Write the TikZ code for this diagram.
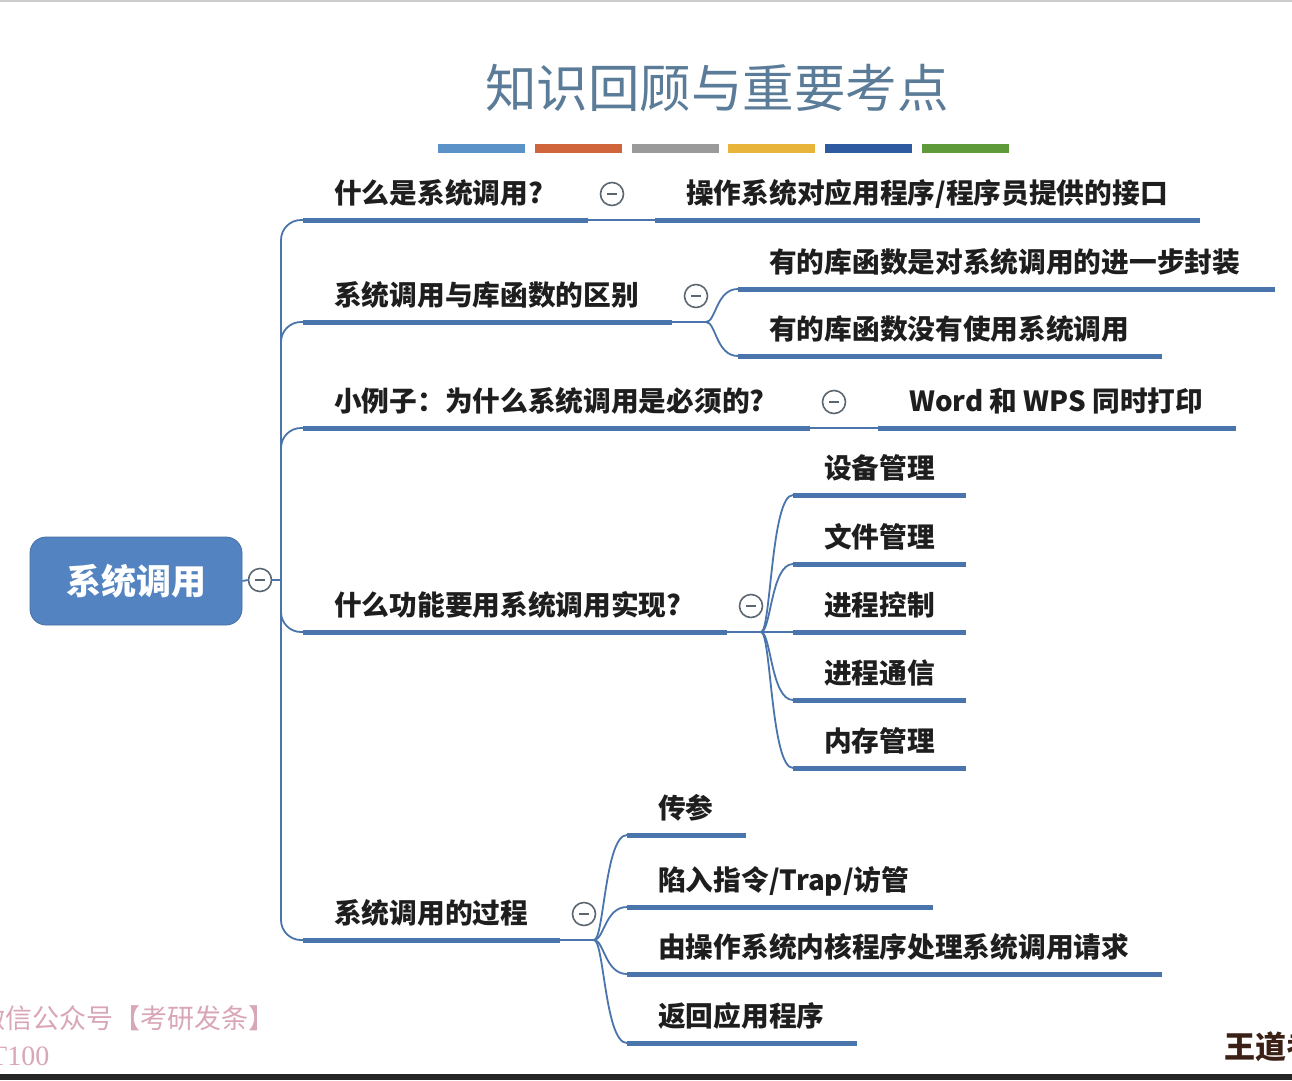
\documentclass[tikz,border=0pt]{standalone}
\usepackage{fontspec}
\newfontfamily\cjk{Noto Sans CJK SC}
\newfontfamily\latinserif{Liberation Serif}
\usetikzlibrary{positioning,calc}

\definecolor{linkblue}{HTML}{4A74AC}
\definecolor{rootblue}{HTML}{5383C0}
\definecolor{textdark}{HTML}{1E1E1E}
\definecolor{foldgray}{HTML}{5C6670}
\definecolor{titleblue}{HTML}{5B7C98}
\definecolor{markpink}{HTML}{D9A6B8}
\definecolor{wangdao}{HTML}{3B2015}
\definecolor{barA}{HTML}{5B93C8}
\definecolor{barB}{HTML}{D0643A}
\definecolor{barC}{HTML}{9A9A9A}
\definecolor{barD}{HTML}{E8B53A}
\definecolor{barE}{HTML}{2D5AA0}
\definecolor{barF}{HTML}{5E9A3A}

\tikzset{
  lbl/.style={anchor=base west, inner sep=0pt, text=textdark,
    font=\cjk\bfseries\fontsize{27.7}{30}\selectfont},
  uline/.style={draw=linkblue, line width=5pt},
  link/.style={draw=linkblue, line width=1.8pt},
  fold/.style={circle, draw=foldgray, fill=white, line width=1.6pt,
    minimum size=23pt, inner sep=0pt,
    path picture={\draw[foldgray, line width=1.6pt]
      ([xshift=-5pt]path picture bounding box.center) --
      ([xshift=5pt]path picture bounding box.center);}},
  rootbox/.style={rectangle, rounded corners=16pt, fill=rootblue, draw=rootblue!85!black,
    line width=0.8pt, minimum width=212pt, minimum height=88pt, text=white,
    font=\cjk\bfseries\fontsize{35}{38}\selectfont},
}

% name, left x, right x, underline y, text
\newcommand{\topicline}[5]{%
  \coordinate (#1-l) at (#2,#4);
  \coordinate (#1-r) at (#3,#4);
  \node[lbl] (#1) at ($(#1-l)+(31,-17)$) {#5};
  \draw[uline] (#1-l) -- (#1-r);
}
% from junction to a child line
\newcommand{\sublink}[2]{%
  \draw[link] (#1) .. controls +(10,0) and +(-22,0) .. (#2-l);
}

\begin{document}
\begin{tikzpicture}[x=1pt, y=-1pt]
\clip (0,0) rectangle (1292,1080);
\fill[white] (0,0) rectangle (1292,1080);
\fill[black!20] (0,0) rectangle (1292,2);
\fill[black!85] (0,1074) rectangle (1292,1080);

% title
\node[text=titleblue, font=\cjk\fontsize{51.5}{56}\selectfont] (title) at (717,88) {知识回顾与重要考点};
\foreach \c [count=\i from 0] in {barA,barB,barC,barD,barE,barF}{
  \fill[\c] (438+\i*96.8,144) rectangle ++(87,9);
}

% root
\node[rootbox] (root) at (136,581) {系统调用};
\node[fold] (rootfold) at (260,580) {};
\draw[link] (root.east) -- (rootfold.west);
\coordinate (trunk) at (281,580);
\draw[link] (rootfold.east) -- (trunk);

% first branch
\topicline{b1}{303}{588}{220}{什么是系统调用?}
\node[fold] (f1) at ($(b1-r)+(24,-26)$) {};
\topicline{c11}{655}{1200}{220}{操作系统对应用程序/程序员提供的接口}
\draw[link] (b1-r) -- (c11-l);

% second branch
\topicline{b2}{303}{672}{322}{系统调用与库函数的区别}
\node[fold] (f2) at ($(b2-r)+(24,-26)$) {};
\coordinate (j2) at ($(b2-r)+(34,0)$);
\draw[link] (b2-r) -- (j2);
\topicline{c21}{738}{1275}{289}{有的库函数是对系统调用的进一步封装}
\topicline{c22}{738}{1162}{356}{有的库函数没有使用系统调用}
\sublink{j2}{c21}
\sublink{j2}{c22}

% third branch
\topicline{b3}{303}{810}{428}{小例子：为什么系统调用是必须的?}
\node[fold] (f3) at ($(b3-r)+(24,-26)$) {};
\topicline{c31}{878}{1236}{428}{Word 和 WPS 同时打印}
\draw[link] (b3-r) -- (c31-l);

% fourth branch
\topicline{b4}{303}{727}{632}{什么功能要用系统调用实现?}
\node[fold] (f4) at ($(b4-r)+(24,-26)$) {};
\coordinate (j4) at ($(b4-r)+(34,0)$);
\draw[link] (b4-r) -- (j4);
\foreach \t/\y [count=\i] in {设备管理/495,文件管理/564,进程控制/632,进程通信/700,内存管理/768}{
  \topicline{c4\i}{793}{966}{\y}{\t}
  \sublink{j4}{c4\i}
}

% fifth branch
\topicline{b5}{303}{560}{940}{系统调用的过程}
\node[fold] (f5) at ($(b5-r)+(24,-26)$) {};
\coordinate (j5) at ($(b5-r)+(34,0)$);
\draw[link] (b5-r) -- (j5);
\topicline{c51}{627}{746}{835}{传参}
\topicline{c52}{627}{933}{907}{陷入指令/Trap/访管}
\topicline{c53}{627}{1162}{974}{由操作系统内核程序处理系统调用请求}
\topicline{c54}{627}{857}{1043}{返回应用程序}
\foreach \n in {c51,c52,c53,c54}{
  \sublink{j5}{\n}
}

% trunk to the branches
\foreach \n in {b1,b2,b3,b4,b5}{
  \draw[link, rounded corners=20pt] (trunk) |- (\n-l);
}

% marks at the bottom
\node[anchor=base west, inner sep=0pt, text=markpink, font=\cjk\fontsize{27}{30}\selectfont] (mark1) at (-22,1028) {微信公众号【考研发条】};
\node[anchor=base west, inner sep=0pt, text=markpink, font=\latinserif\fontsize{28}{30}\selectfont] (mark2) at (-10,1065) {T100};
\node[anchor=west, inner sep=0pt, text=wangdao, font=\cjk\bfseries\fontsize{31}{34}\selectfont] (mark3) at (1224,1047) {王道考研};
\end{tikzpicture}
\end{document}
